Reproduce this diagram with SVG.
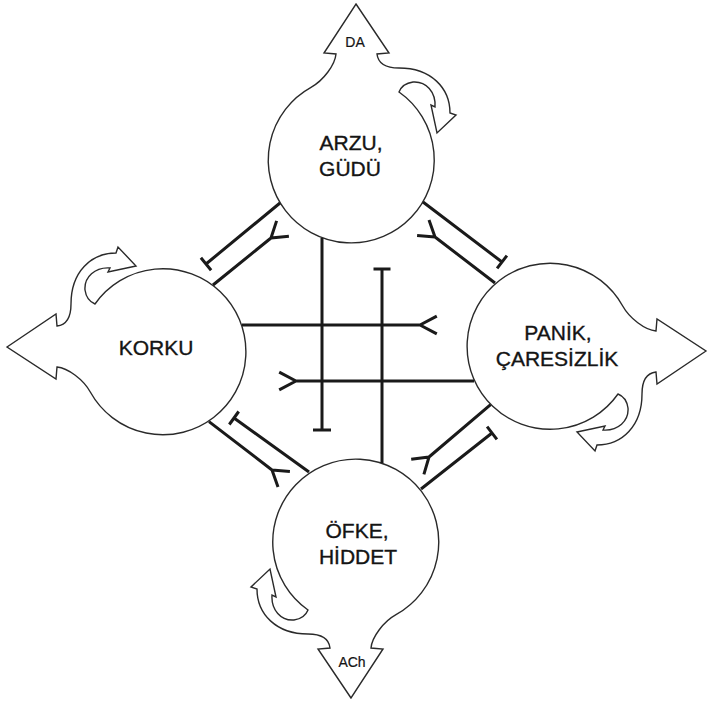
<svg xmlns="http://www.w3.org/2000/svg" width="715" height="702" viewBox="0 0 715 702">
<style>
.lbl{font-family:"Liberation Sans",Arial,Helvetica,sans-serif;font-size:21px;fill:#141414;stroke:#141414;stroke-width:0.35;text-anchor:middle}
.small{font-size:14px;stroke-width:0.2}
.c{fill:none;stroke:#1a1a1a;stroke-width:3;stroke-linecap:butt;stroke-linejoin:round}
</style>
<defs>
<path id="blob" fill="#ffffff" stroke="#2a2a2a" stroke-width="1.4" stroke-linejoin="miter" d="M5,-156 L38,-107 L26,-106 C27,-97 35,-92 48,-92 C80,-92 99,-72 99,-47 L105,-45 L86,-27 L80,-55 L84,-53 C85,-68 75,-79 62,-78 C55,-77 50,-73 48,-68 A83,83 0 1 1 -40,-72.7 C-27.7,-79.5 -16,-95 -15,-106 L-27,-107 Z"/>
</defs>
<rect width="715" height="702" fill="#ffffff"/>
<g id="node-arzu">
<use href="#blob" transform="translate(351,160)"/>
<text class="lbl small" x="355" y="47">DA</text>
<text class="lbl" x="351" y="150">ARZU,</text>
<text class="lbl" x="350" y="176">GÜDÜ</text>
</g>
<g id="node-panik">
<use href="#blob" transform="translate(550,346) rotate(90)"/>
<text class="lbl" x="558" y="340">PANİK,</text>
<text class="lbl" x="557" y="366">ÇARESİZLİK</text>
</g>
<g id="node-ofke">
<use href="#blob" transform="translate(356,542) rotate(180)"/>
<text class="lbl" x="357" y="538">ÖFKE,</text>
<text class="lbl" x="358" y="564">HİDDET</text>
<text class="lbl small" x="352" y="667">ACh</text>
</g>
<g id="node-korku">
<use href="#blob" transform="translate(163,352) rotate(270)"/>
<text class="lbl" x="156" y="355">KORKU</text>
</g>
<g id="connectors">
<path class="c" d="M280,203 L206,264 M200.9,257.8 L211.1,270.2"/>
<path class="c" d="M213,285 L271,238 M288.9,236.2 L271,238 L276.6,220.9"/>
<path class="c" d="M423,202 L502,262 M497.1,268.4 L506.9,255.6"/>
<path class="c" d="M495,283 L435,237 M417.1,235.6 L435,237 L429,220"/>
<path class="c" d="M209,421.6 L272,470 M278,487 L272,470 L289.9,471.4"/>
<path class="c" d="M309,472 L234,418 M238.7,411.5 L229.3,424.5"/>
<path class="c" d="M490.6,404.6 L429,457 M411.2,459.3 L429,457 L423.9,474.3"/>
<path class="c" d="M421,489 L492,433 M487.1,426.7 L496.9,439.3"/>
<path class="c" d="M322,238 L322,430 M313,430 L331,430"/>
<path class="c" d="M382,463 L382,269 M373.5,269 L390.5,269"/>
<path class="c" d="M242,325 L420,325 M436.8,316.1 L420,325 L436.8,333.9"/>
<path class="c" d="M474,381 L296,381 M279.2,372.1 L296,381 L279.2,389.9"/>
</g>
</svg>
